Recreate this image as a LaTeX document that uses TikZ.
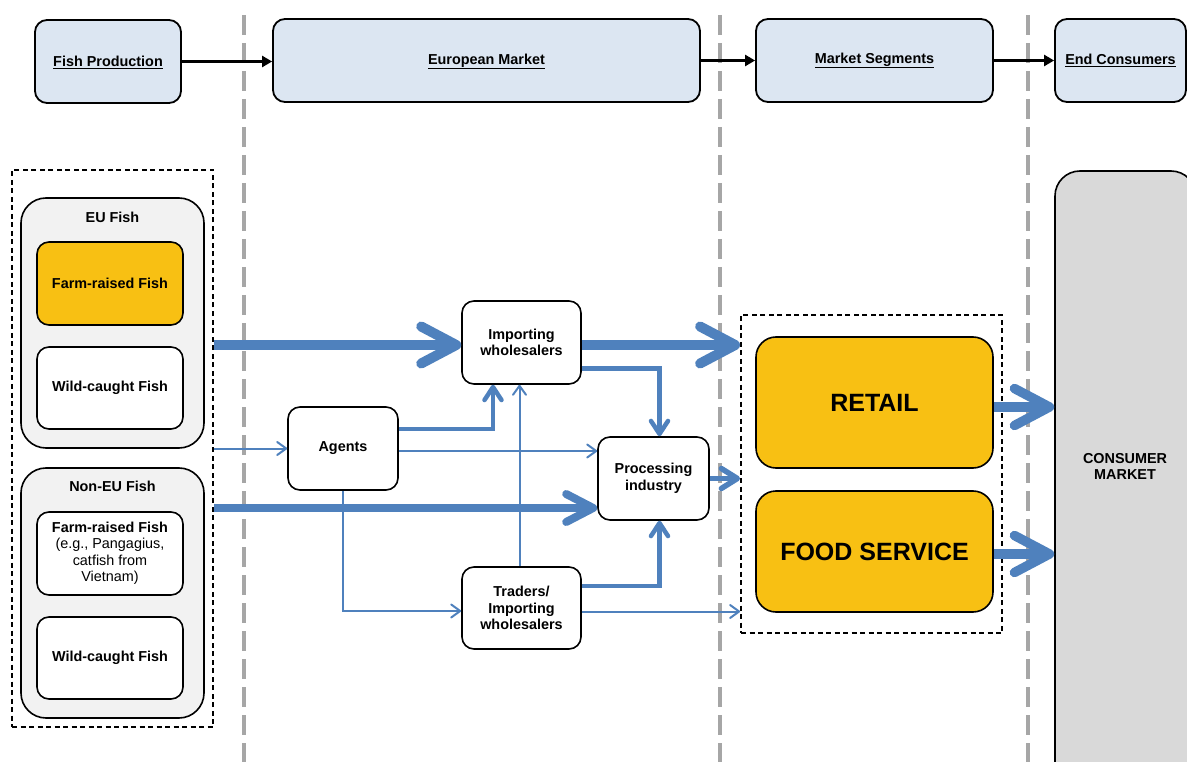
\documentclass[tikz,border=0pt]{standalone}
\usepackage{fontspec}
\setmainfont{Liberation Sans}
\usetikzlibrary{arrows.meta}
\definecolor{hdrfill}{HTML}{DCE6F2}
\definecolor{orng}{HTML}{F8C013}
\definecolor{grpfill}{HTML}{F2F2F2}
\definecolor{consfill}{HTML}{D9D9D9}
\definecolor{flow}{HTML}{4F81BD}
\definecolor{sepcol}{HTML}{A6A6A6}
\begin{document}
\begin{tikzpicture}[x=1pt,y=-1pt,
  base/.style={draw=black, line width=1.6pt, rounded corners=12pt, inner sep=0pt, align=center,
    font=\bfseries\fontsize{14.4}{16.5}\selectfont},
  hdr/.style={base, fill=hdrfill, line width=1.8pt},
  hdrtxt/.style={inner sep=0pt, font=\bfseries\fontsize{14.4}{16.5}\selectfont},
  wbox/.style={base, fill=white},
  obox/.style={base, fill=orng},
  bigbox/.style={obox, rounded corners=20pt, font=\bfseries\fontsize{25}{28}\selectfont},
  grpbox/.style={draw=black, line width=1.6pt, rounded corners=25pt, fill=grpfill, inner sep=0pt},
  lbl/.style={inner sep=0pt, align=center, font=\bfseries\fontsize{14.4}{16.5}\selectfont},
  dbox/.style={draw=black, line width=1.8pt, dash pattern=on 5pt off 3.5pt, inner sep=0pt},
  sepline/.style={draw=sepcol, line width=4pt, dash pattern=on 20pt off 8pt},
  harrow/.style={draw=black, line width=2.4pt, -{Triangle[length=10pt,width=11pt]}},
  thickflow/.style={draw=flow, line width=10pt, -{Straight Barb[length=35pt,width=37pt,round]}},
  midthick/.style={draw=flow, line width=8pt, -{Straight Barb[length=27pt,width=28pt,round]}},
  medflow/.style={draw=flow, line width=4.5pt, -{Straight Barb[length=13pt,width=17pt,round]}},
  procflow/.style={draw=flow, line width=5.5pt, -{Straight Barb[length=16pt,width=20pt,round]}},
  thinflow/.style={draw=flow, line width=2pt, -{Straight Barb[length=9pt,width=13pt,round]}}
]
\useasboundingbox (0,0) rectangle (1187,762);
\clip (0,0) rectangle (1187,762);

% separators
\draw[sepline] (244,15) -- (244,770);
\draw[sepline] (720,15) -- (720,770);
\draw[sepline] (1028,15) -- (1028,770);

% header row
\node[hdr, minimum width=146pt, minimum height=83pt] (fp) at (108,61.5) {};
\node[hdr, minimum width=427pt, minimum height=83pt] (em) at (486.5,60.5) {};
\node[hdr, minimum width=237pt, minimum height=83pt] (ms) at (874.5,60.5) {};
\node[hdr, minimum width=131pt, minimum height=83pt] (ec) at (1120.5,60.5) {};
\node[hdrtxt] (fpt) at (108,62.5) {\underline{Fish Production}};
\node[hdrtxt] (emt) at (486.5,61.5) {\underline{European Market}};
\node[hdrtxt] (mst) at (874.5,60.5) {\underline{Market Segments}};
\node[hdrtxt] (ect) at (1120.5,60.5) {\underline{End Consumers}};
\draw[harrow] (fp.east) -- (em.west |- fp.east);
\draw[harrow] (em.east) -- (ms.west);
\draw[harrow] (ms.east) -- (ec.west);

% production side
\node[dbox, minimum width=201pt, minimum height=557pt] (src) at (112.5,448.5) {};
\node[grpbox, minimum width=183pt, minimum height=250pt] (eu) at (112.5,323) {};
\node[lbl] (eulbl) at (112.5,217) {EU Fish};
\node[obox, minimum width=146pt, minimum height=83pt] (eufarm) at (110,283.5) {Farm-raised Fish};
\node[wbox, minimum width=146pt, minimum height=82pt] (euwild) at (110,388) {Wild-caught Fish};
\node[grpbox, minimum width=183pt, minimum height=250pt] (neu) at (112.5,593) {};
\node[lbl] (neulbl) at (112.5,486) {Non-EU Fish};
\node[wbox, minimum width=146pt, minimum height=83pt, font=\fontsize{14.4}{16.5}\selectfont] (nefarm) at (110,553.5)
  {\textbf{Farm-raised Fish}\\(e.g., Pangagius,\\catfish from\\Vietnam)};
\node[wbox, minimum width=146pt, minimum height=82pt] (newild) at (110,658) {Wild-caught Fish};

% european market
\node[wbox, minimum width=119pt, minimum height=83pt] (imp) at (521.5,342.5) {Importing\\wholesalers};
\node[wbox, minimum width=110pt, minimum height=83pt] (ag) at (343,448.5) {Agents};
\node[wbox, minimum width=111pt, minimum height=83pt] (proc) at (653.5,478.5) {Processing\\industry};
\node[wbox, minimum width=119pt, minimum height=82pt] (tr) at (521.5,608) {Traders/\\Importing\\wholesalers};

% market segments
\node[dbox, minimum width=261pt, minimum height=318pt] (seg) at (871.5,474) {};
\node[bigbox, minimum width=237pt, minimum height=131pt] (retail) at (874.5,402.5) {RETAIL};
\node[bigbox, minimum width=237pt, minimum height=121pt] (food) at (874.5,551.5) {FOOD SERVICE};

% consumers
\node[draw=black, line width=1.6pt, fill=consfill, rounded corners=25pt, minimum width=141pt, minimum height=640pt, inner sep=0pt] (cons) at (1125.5,491) {};
\node[lbl] (conslbl) at (1125,466.5) {CONSUMER\\MARKET};

% helper coordinates
\coordinate (r1) at (0,345);
\coordinate (r3) at (0,508);
\coordinate (c5) at (493,429);
\coordinate (r6) at (0,451);
\coordinate (r7) at (0,611);
\coordinate (c8) at (519.5,0);
\coordinate (r9) at (0,368.5);
\coordinate (c9) at (659.5,0);
\coordinate (r10) at (0,586);
\coordinate (r12) at (0,611.5);
\coordinate (r13) at (0,407);
\coordinate (r14) at (0,554);

% flows
\draw[thinflow] (src.east |- ag.west) -- (ag.west);
\draw[medflow] (ag.east |- c5) -| (imp.south -| c5);
\draw[thinflow] (ag.east |- r6) -- (proc.west |- r6);
\draw[thinflow] (ag.south) |- (tr.west |- r7);
\draw[thinflow] (tr.north -| c8) -- (imp.south -| c8);
\draw[medflow] (imp.east |- r9) -| (proc.north -| c9);
\draw[medflow] (tr.east |- r10) -| (proc.south -| c9);
\draw[thinflow] (tr.east |- r12) -- (seg.west |- r12);
\draw[procflow] (proc.east) -- (seg.west |- proc.east);
\draw[thickflow] (src.east |- r1) -- (imp.west |- r1);
\draw[thickflow] (imp.east |- r1) -- (seg.west |- r1);
\draw[midthick] (src.east |- r3) -- (proc.west |- r3);
\draw[thickflow, line width=9.5pt] (retail.east |- r13) -- (cons.west |- r13);
\draw[thickflow, line width=9.5pt] (food.east |- r14) -- (cons.west |- r14);
\end{tikzpicture}
\end{document}
